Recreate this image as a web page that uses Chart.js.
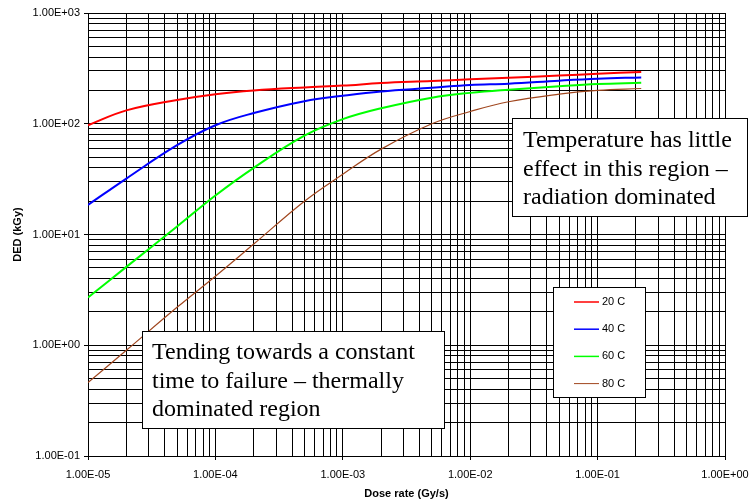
<!DOCTYPE html>
<html>
<head>
<meta charset="utf-8">
<script src="https://cdn.jsdelivr.net/npm/chart.js@4/dist/chart.umd.min.js"></script>
<style>
  html, body { margin: 0; padding: 0; background: #fff; }
  canvas { display: block; }
</style>
</head>
<body>
<canvas id="dedChart" width="749" height="502"></canvas>
<script>
const doseRates = [1e-5, 2e-5, 5e-5, 1e-4, 2e-4, 5e-4, 1e-3, 2e-3, 5e-3, 1e-2, 2e-2, 5e-2, 1e-1, 2.2e-1]
// DED (kGy) per temperature
const ded20 = [97, 132, 164, 185, 200, 213, 221, 233, 243, 252, 260, 272, 283, 293]
const ded40 = [18.5, 32, 64, 97, 125, 160, 179, 196, 211, 224, 230, 245, 255, 262]
const ded60 = [2.7, 5.1, 11.8, 22.5, 40, 78, 110, 138, 172, 190, 203, 218, 228, 234]
const ded80 = [0.46, 0.9, 2.2, 4.2, 8.2, 20, 35, 59, 100, 129, 158, 185, 200, 208]
const seriesLabels = ['20 C', '40 C', '60 C', '80 C']
const seriesColors = ['#ff0000', '#0000ff', '#00ff00', '#a0461e']

// axis ticks
const xMajors = [1e-5, 1e-4, 1e-3, 1e-2, 1e-1, 1]
const xTickLabels = ['1.00E-05', '1.00E-04', '1.00E-03', '1.00E-02', '1.00E-01', '1.00E+00']
const yMajors = [0.1, 1, 10, 100, 1000]
const yTickLabels = ['1.00E-01', '1.00E+00', '1.00E+01', '1.00E+02', '1.00E+03']

const notes = [
    { box: [512, 118, 747, 216], x: 523, y: 147, lines: ['Temperature has little', 'effect in this region \u2013', 'radiation dominated'] },
    { box: [142, 331, 444, 428], x: 152, y: 359, lines: ['Tending towards a constant', 'time to failure \u2013 thermally', 'dominated region'] }
]

//    ------- ticks majeurs + mineurs (1..9 par décade) ----------
const logTicks = (majors) => (scale) => {
    const t = []
    majors.forEach((m, i) => {
        t.push({ value: m, major: true })
        if (i < majors.length - 1) {
            for (let k = 2; k < 10; k++) t.push({ value: m * k })
        }
    })
    scale.ticks = t
}
const tickLabel = (majors, labels) => (value) => {
    const i = majors.indexOf(value)
    return i >= 0 ? labels[i] : ''
}

const allSeries = [ded20, ded40, ded60, ded80]
const datasets = allSeries.map((vals, i) => ({
    label: seriesLabels[i],
    data: vals.map((v, j) => ({ x: doseRates[j], y: v })),
    borderColor: seriesColors[i],
    backgroundColor: seriesColors[i],
    borderWidth: i === 3 ? 1.2 : 2,
    pointRadius: 0,
    tension: 0.4,
    fill: false
}))

//    ------- légende + encadrés ----------
const extras = {
    id: 'extras',
    afterDraw(chart) {
        const c = chart.ctx
        c.save()
        // legend box
        c.fillStyle = '#fff'
        c.fillRect(553, 287, 92, 110)
        c.strokeStyle = '#000'
        c.lineWidth = 1
        c.strokeRect(553.5, 287.5, 92, 110)
        c.font = '11px "Liberation Sans", Arial, sans-serif'
        c.textBaseline = 'middle'
        chart.data.datasets.forEach((ds, i) => {
            const y = 302 + i * 27.2
            c.strokeStyle = ds.borderColor
            c.lineWidth = i === 3 ? 1 : 1.5
            c.beginPath()
            c.moveTo(574, y)
            c.lineTo(599, y)
            c.stroke()
            c.fillStyle = '#000'
            c.fillText(ds.label, 602, y)
        })
        // notes
        notes.forEach(n => {
            const [l, t, r, b] = n.box
            c.fillStyle = '#fff'
            c.fillRect(l, t, r - l, b - t)
            c.strokeStyle = '#000'
            c.lineWidth = 1
            c.strokeRect(l + 0.5, t + 0.5, r - l, b - t)
            c.fillStyle = '#000'
            c.font = '24px "Liberation Serif", "Times New Roman", serif'
            c.textBaseline = 'alphabetic'
            n.lines.forEach((s, k) => c.fillText(s, n.x, n.y + k * 28.5))
        })
        c.restore()
    }
}

const ctx = document.getElementById('dedChart').getContext('2d')
const chart = new Chart(ctx, {
    type: 'line',
    data: { datasets },
    plugins: [extras],
    options: {
        responsive: false,
        animation: false,
        devicePixelRatio: 1,
        layout: { padding: { top: 13, right: 24, left: 0, bottom: 0 } },
        font: { family: '"Liberation Sans", Arial, sans-serif' },
        plugins: {
            legend: { display: false },
            tooltip: { enabled: false }
        },
        scales: {
            x: {
                type: 'logarithmic',
                min: 1e-5,
                max: 1,
                afterBuildTicks: logTicks(xMajors),
                afterFit: (s) => { s.height = 46; s.paddingLeft = 0; s.paddingRight = 0 },
                grid: {
                    color: '#000',
                    lineWidth: 1,
                    tickLength: 4,
                    tickColor: (c) => xMajors.includes(c.tick && c.tick.value) ? '#000' : 'rgba(0,0,0,0)'
                },
                border: { color: '#000' },
                ticks: {
                    autoSkip: false,
                    maxRotation: 0,
                    padding: 8,
                    color: '#000',
                    font: { size: 11, family: '"Liberation Sans", Arial, sans-serif' },
                    callback: tickLabel(xMajors, xTickLabels)
                },
                title: {
                    display: true,
                    text: 'Dose rate (Gy/s)',
                    color: '#000',
                    padding: { top: 0, bottom: 1 },
                    font: { size: 11, weight: 'bold', family: '"Liberation Sans", Arial, sans-serif' }
                }
            },
            y: {
                type: 'logarithmic',
                min: 0.1,
                max: 1000,
                afterBuildTicks: logTicks(yMajors),
                afterFit: (s) => { s.width = 88; s.paddingTop = 0; s.paddingBottom = 0 },
                grid: {
                    color: '#000',
                    lineWidth: 1,
                    tickLength: 4,
                    tickColor: (c) => yMajors.includes(c.tick && c.tick.value) ? '#000' : 'rgba(0,0,0,0)'
                },
                border: { color: '#000' },
                ticks: {
                    autoSkip: false,
                    padding: 4,
                    color: '#000',
                    font: { size: 11, family: '"Liberation Sans", Arial, sans-serif' },
                    callback: tickLabel(yMajors, yTickLabels)
                },
                title: {
                    display: true,
                    text: 'DED (kGy)',
                    color: '#000',
                    padding: { top: 11, bottom: 0 },
                    font: { size: 11, weight: 'bold', family: '"Liberation Sans", Arial, sans-serif' }
                }
            }
        }
    }
})
</script>
</body>
</html>
